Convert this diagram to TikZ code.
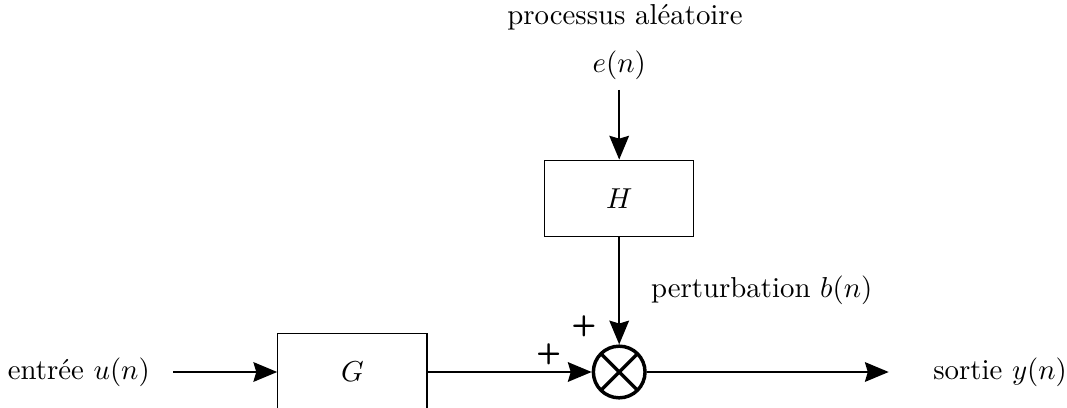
\documentclass[tikz,border=0pt]{standalone}
\usepackage{tikz}
\usetikzlibrary{arrows.meta, positioning}

\begin{document}
\begin{tikzpicture}[
        bloc/.style = {rectangle, draw, thin, minimum width=1.82cm, minimum height=0.93cm},
        sommateur/.style = {circle, draw, very thick, minimum size=0.63cm, inner sep=0pt,
            path picture={\draw [very thick] (path picture bounding box.north west) -- (path picture bounding box.south east)
                (path picture bounding box.north east) -- (path picture bounding box.south west);}},
        signal/.style = {draw, semithick, -{Stealth[length=2.9mm, width=2.4mm, inset=0.35mm]}},
        signe/.style = {font=\sffamily\bfseries}
    ]
    \useasboundingbox (0,0) rectangle (13.01,4.963);

    % Sommateur
    \node [sommateur] (sum) at (7.55,0.427) {};
    \node [signe, xshift=-0.86cm, yshift=0.21cm] at (sum.center) (plus_u) {+};
    \node [signe, xshift=-0.43cm, yshift=0.56cm] at (sum.center) (plus_b) {+};

    % Blocs
    \node [bloc, left=2cm of sum] (G) {$G$};
    \node [bloc, above=1.31cm of sum] (H) {$H$};

    % Entree, sortie et bruit
    \node [above=0.85cm of H] (e) {$e(n)$};
    \node [above=0cm of e, xshift=0.07cm] (proc) {processus aléatoire};
    \coordinate [left=1.27cm of G] (debut);
    \node [left=0.16cm of debut] (entree) {entrée $u(n)$};
    \coordinate [right=2.95cm of sum] (fin);
    \node [right=0.42cm of fin] (sortie) {sortie $y(n)$};

    % Connexions
    \draw [signal] (debut) -- (G);
    \draw [signal] (G) -- (sum);
    \draw [signal] (e) -- (H);
    \draw [signal] (H) -- (sum) node[midway, right, xshift=0.26cm] {perturbation $b(n)$};
    \draw [signal] (sum) -- (fin);

\end{tikzpicture}
\end{document}
